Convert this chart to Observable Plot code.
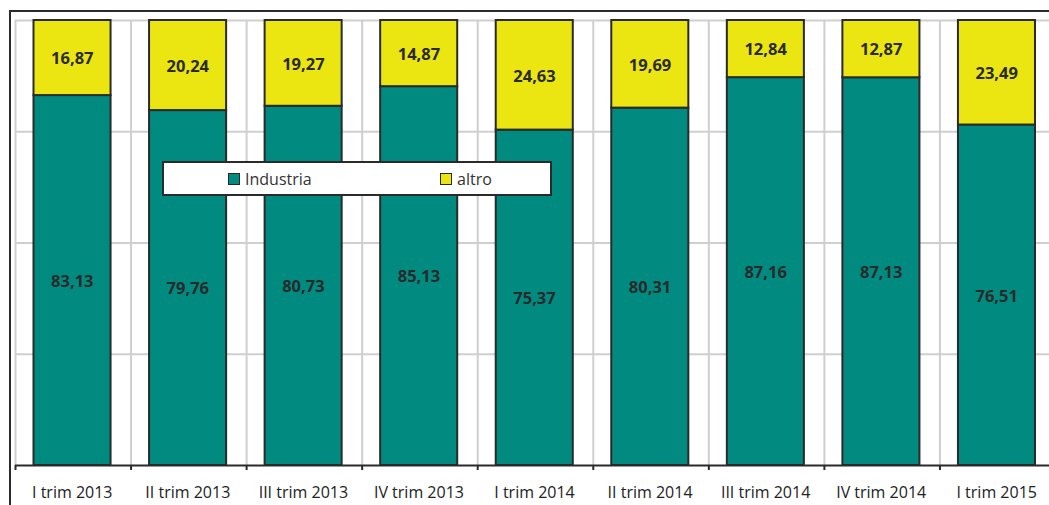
<!DOCTYPE html>
<html>
<head>
<meta charset="utf-8">
<script src="https://cdn.jsdelivr.net/npm/d3@7"></script>
<script src="https://cdn.jsdelivr.net/npm/@observablehq/plot@0.6"></script>
<style>
  html, body { margin: 0; padding: 0; background: #fff; overflow: hidden; }
  #wrap { position: relative; width: 1049px; height: 505px; font-family: "Open Sans", sans-serif; }
  #frame { position: absolute; left: 9px; top: 10px; width: 1100px; height: 600px;
           border-top: 2px solid #2a2a2a; border-left: 2px solid #2a2a2a; box-sizing: border-box; }
  #chart { position: absolute; left: 0; top: 0; }
  #legend { position: absolute; left: 162px; top: 161px; width: 390px; height: 35px; box-sizing: border-box;
            background: #fff; border: 2px solid #2a2a2a; font-size: 16px; color: #333; }
  .item { position: absolute; top: 0; height: 31px; display: flex; align-items: center; }
  .sw { width: 10px; height: 10px; border: 1.5px solid #2a2a2a; margin-right: 5px; }
</style>
</head>
<body>
<div id="wrap">
  <div id="frame"></div>
  <div id="chart"></div>
  <div id="legend"></div>
</div>
<script>
// Quarterly share (%) by sector
const categories = ["I trim 2013", "II trim 2013", "III trim 2013", "IV trim 2013", "I trim 2014",
                    "II trim 2014", "III trim 2014", "IV trim 2014", "I trim 2015"];
const industria = [83.13, 79.76, 80.73, 85.13, 75.37, 80.31, 87.16, 87.13, 76.51];
const altro = [16.87, 20.24, 19.27, 14.87, 24.63, 19.69, 12.84, 12.87, 23.49];
const seriesNames = ["Industria", "altro"];
const seriesColors = ["#008a80", "#ebe612"];
const yGrid = [25, 50, 75, 100];

const table = [];
categories.forEach((c, i) => {
  table.push({cat: c, series: seriesNames[0], value: industria[i]});
  table.push({cat: c, series: seriesNames[1], value: altro[i]});
});

const fmt = v => v.toFixed(2).replace(".", ",");

const W = 1049, H = 505;
const mL = 15, mR = -6, mT = 20, mB = 40;
const step = (W - mR - mL) / categories.length;

const chart = Plot.plot({
  width: W,
  height: H,
  marginLeft: mL,
  marginRight: mR,
  marginTop: mT,
  marginBottom: mB,
  style: {fontFamily: "'Open Sans', sans-serif", background: "transparent"},
  x: {type: "band", domain: categories, padding: 0, round: false, label: null},
  y: {domain: [0, 100], axis: null},
  color: {domain: seriesNames, range: seriesColors},
  marks: [
    Plot.ruleY(yGrid, {stroke: "#cfcfcf", strokeWidth: 2}),
    Plot.ruleX(categories, {x: d => d, dx: -step / 2, stroke: "#cfcfcf", strokeWidth: 2}),
    Plot.barY(table, {x: "cat", y: "value", fill: "series", stroke: "#2a2a2a", strokeWidth: 2,
                      insetLeft: 18.5, insetRight: 20, order: seriesNames}),
    Plot.text(table, Plot.stackY({x: "cat", y: "value", z: "series", order: seriesNames,
                      text: d => fmt(d.value), fontWeight: "bold", fontSize: 16.5, fill: "#2a2a2a", dx: -1, dy: 1})),
    Plot.ruleY([0], {stroke: "#2a2a2a", strokeWidth: 2}),
    Plot.ruleX(categories, {x: d => d, dx: -step / 2, y1: 0, y2: 0, insetBottom: -5,
                            stroke: "#2a2a2a", strokeWidth: 2}),
    Plot.axisX({tickSize: 0, tickPadding: 21, fontSize: 16, fill: "#222", dx: -1})
  ]
});
document.getElementById("chart").appendChild(chart);

// Legend drawn over the plot area
const legend = document.getElementById("legend");
const itemLeft = [64, 276];
seriesNames.forEach((name, i) => {
  const it = document.createElement("div");
  it.className = "item";
  it.style.left = itemLeft[i] + "px";
  const sw = document.createElement("span");
  sw.className = "sw";
  sw.style.background = seriesColors[i];
  const tx = document.createElement("span");
  tx.textContent = name;
  it.appendChild(sw);
  it.appendChild(tx);
  legend.appendChild(it);
});
</script>
</body>
</html>
